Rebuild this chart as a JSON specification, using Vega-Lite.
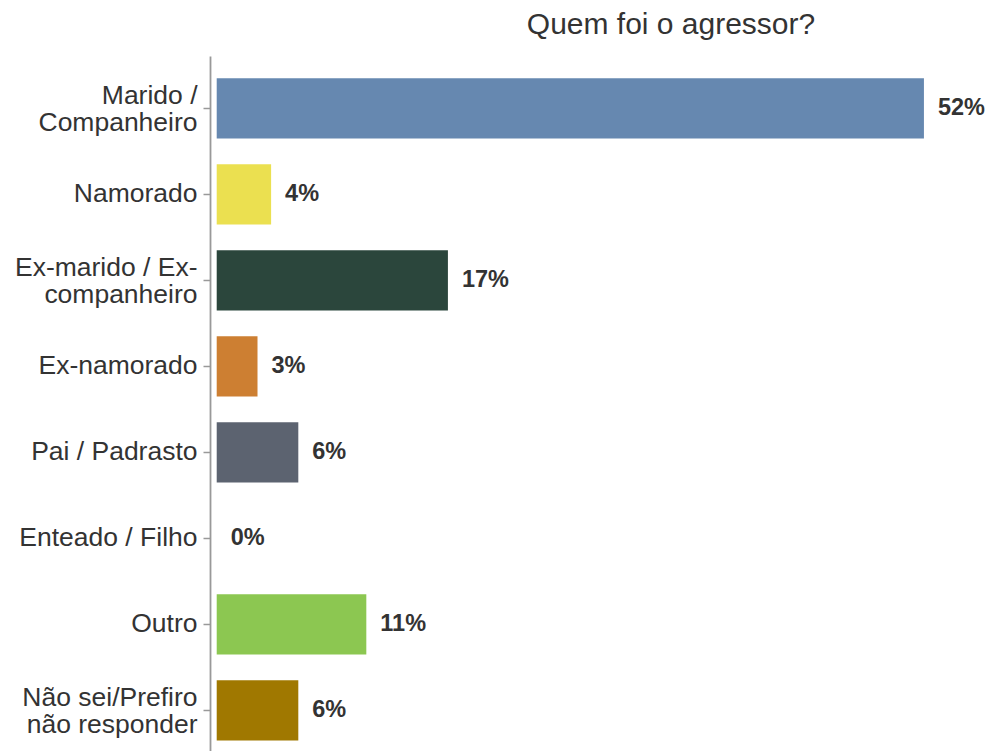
{
  "$schema": "https://vega.github.io/schema/vega-lite/v6.json",
  "autosize": {"type": "none"},
  "padding": {"left": 210, "top": 56, "right": 0, "bottom": 0},
  "width": 778,
  "height": 706.6,
  "background": "white",
  "config": {
    "font": "Liberation Sans",
    "view": {"stroke": null}
  },
  "title": {
    "text": "Quem foi o agressor?",
    "fontSize": 30,
    "fontWeight": "normal",
    "color": "#333333",
    "anchor": "middle",
    "dx": 72,
    "baseline": "alphabetic",
    "offset": -8
  },
  "data": {
    "values": [
      {"agressor": "Marido / Companheiro", "value": 0.52},
      {"agressor": "Namorado", "value": 0.04},
      {"agressor": "Ex-marido / Ex-companheiro", "value": 0.17},
      {"agressor": "Ex-namorado", "value": 0.03},
      {"agressor": "Pai / Padrasto", "value": 0.06},
      {"agressor": "Enteado / Filho", "value": 0.0},
      {"agressor": "Outro", "value": 0.11},
      {"agressor": "Não sei/Prefiro não responder", "value": 0.06}
    ]
  },
  "encoding": {
    "y": {
      "field": "agressor",
      "type": "nominal",
      "sort": null,
      "scale": {"paddingInner": 0.3, "paddingOuter": 0.258},
      "axis": {
        "title": null,
        "labelFontSize": 26.5,
        "labelColor": "#333333",
        "labelLineHeight": 26.7,
        "labelPadding": 6,
        "labelLimit": 300,
        "labelOffset": {
          "condition": {
            "test": "datum.value == 'Marido / Companheiro' || datum.value == 'Ex-marido / Ex-companheiro' || datum.value == 'Não sei/Prefiro não responder'",
            "value": -12
          },
          "value": 0
        },
        "tickSize": 7,
        "tickColor": "#999999",
        "tickWidth": 1.5,
        "domainColor": "#999999",
        "domainWidth": 1.8,
        "labelExpr": "datum.value == 'Marido / Companheiro' ? ['Marido /', 'Companheiro'] : datum.value == 'Ex-marido / Ex-companheiro' ? ['Ex-marido / Ex-', 'companheiro'] : datum.value == 'Não sei/Prefiro não responder' ? ['Não sei/Prefiro', 'não responder'] : datum.value"
      }
    }
  },
  "layer": [
    {
      "mark": {"type": "bar"},
      "encoding": {
        "x": {
          "field": "value",
          "type": "quantitative",
          "scale": {"domain": [-0.00493, 0.5671], "nice": false, "zero": false},
          "axis": null
        },
        "x2": {"datum": 0},
        "color": {
          "field": "agressor",
          "type": "nominal",
          "sort": null,
          "legend": null,
          "scale": {
            "domain": ["Marido / Companheiro", "Namorado", "Ex-marido / Ex-companheiro", "Ex-namorado", "Pai / Padrasto", "Enteado / Filho", "Outro", "Não sei/Prefiro não responder"],
            "range": ["#6688B0", "#EBE050", "#2B463C", "#CD7F32", "#5C6370", "#999999", "#8CC751", "#A07800"]
          }
        }
      }
    },
    {
      "mark": {"type": "text", "align": "left", "baseline": "middle", "dx": 14, "fontSize": 23.5, "fontWeight": "bold", "color": "#333333"},
      "encoding": {
        "x": {"field": "value", "type": "quantitative"},
        "text": {"field": "value", "type": "quantitative", "format": ".0%"}
      }
    }
  ]
}
